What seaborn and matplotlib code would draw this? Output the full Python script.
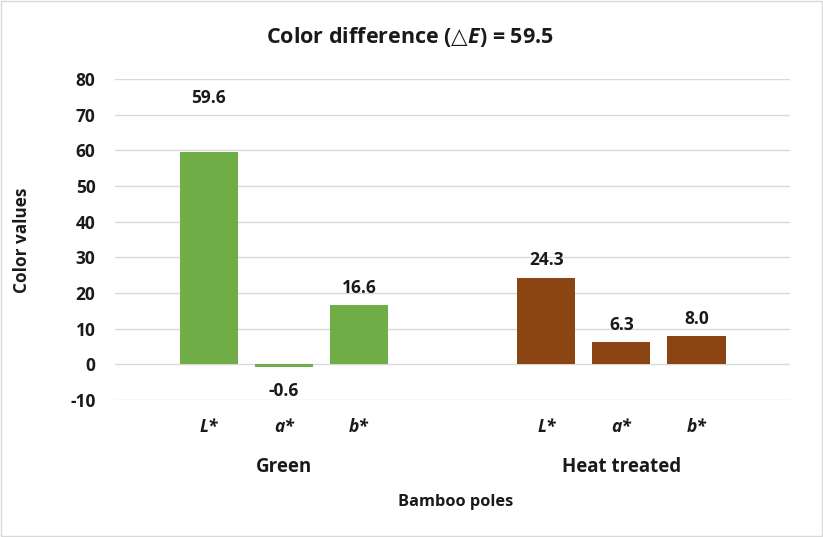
import matplotlib
matplotlib.use("Agg")
import matplotlib.pyplot as plt
import matplotlib.transforms as mtransforms
import pandas as pd
import seaborn as sns

groups = ["Green", "Heat treated"]
components = ["L*", "a*", "b*"]
green_values = [59.6, -0.6, 16.6]
heat_values = [24.3, 6.3, 8.0]
group_colors = {"Green": "#70AD47", "Heat treated": "#8B4513"}

df = pd.DataFrame({
    "group": [g for g in groups for _ in components],
    "component": components * len(groups),
    "value": green_values + heat_values,
})

sns.set_theme(style="white")
plt.rcParams["font.family"] = ["Open Sans", "DejaVu Sans"]
plt.rcParams["font.weight"] = "bold"
plt.rcParams["axes.unicode_minus"] = False
plt.rcParams["mathtext.fontset"] = "custom"
plt.rcParams["mathtext.it"] = "Open Sans:italic:bold"
plt.rcParams["mathtext.rm"] = "DejaVu Sans"

fig = plt.figure(figsize=(8.23, 5.37), dpi=100)
ax = fig.add_axes([0.1397, 0.255, 0.8205, 0.598])

sns.barplot(data=df, x="group", y="value", hue="component", order=groups,
            hue_order=components, width=0.667, gap=0.227, legend=False,
            errorbar=None, ax=ax, zorder=3)

for bar in ax.patches:
    cx = bar.get_x() + bar.get_width() / 2
    bar.set_facecolor(group_colors[groups[int(round(cx))]])
    bar.set_edgecolor("none")

dark = "#1a1a1a"
trans = mtransforms.blended_transform_factory(ax.transData, ax.transAxes)
for container, comp in zip(ax.containers, components):
    anns = ax.bar_label(container, fmt="%.1f", padding=6, fontsize=12.5,
                        fontweight="bold", color=dark)
    for ann, v in zip(anns, container.datavalues):
        # the tallest label sits well above its bar in the original
        if v > 50:
            ann.xyann = (0, 32)
        elif v < 0:
            ann.xyann = (0, -11)
    for bar in container:
        cx = bar.get_x() + bar.get_width() / 2
        ax.text(cx, -0.084, comp, transform=trans, ha="center", va="center",
                fontsize=12.5, fontweight="bold", style="italic", color=dark)

ax.set_ylim(-10, 80)
ax.set_xlim(-0.5, 1.5)
ax.set_yticks(range(-10, 81, 10))
ax.yaxis.grid(True, color="#d9d9d9", linewidth=1, zorder=0)
ax.set_axisbelow(True)
for s in ax.spines.values():
    s.set_visible(False)
ax.tick_params(axis="y", length=0, pad=14, labelsize=12.5, labelcolor=dark)
ax.tick_params(axis="x", length=0, pad=41, labelsize=13.5, labelcolor=dark)
for lbl in ax.get_xticklabels() + ax.get_yticklabels():
    lbl.set_fontweight("bold")

ax.set_xlabel("")
ax.set_ylabel("")
fig.text(0.027, 0.553, "Color values", rotation=90, ha="center", va="center",
         fontsize=12.3, fontweight="bold", color=dark)
fig.text(0.554, 0.065, "Bamboo poles", ha="center", va="center",
         fontsize=11.8, fontweight="bold", color=dark)
fig.text(0.498, 0.931, "Color difference ($\\mathrm{\u25b3}\\mathit{E}$) = 59.5",
         ha="center", va="center", fontsize=15.5, fontweight="bold", color=dark)

fig.patches.append(plt.Rectangle((0.001, 0.001), 0.998, 0.997, transform=fig.transFigure,
                                 fill=False, edgecolor="#d9d9d9", linewidth=1))

fig.savefig("out.png", dpi=100)
